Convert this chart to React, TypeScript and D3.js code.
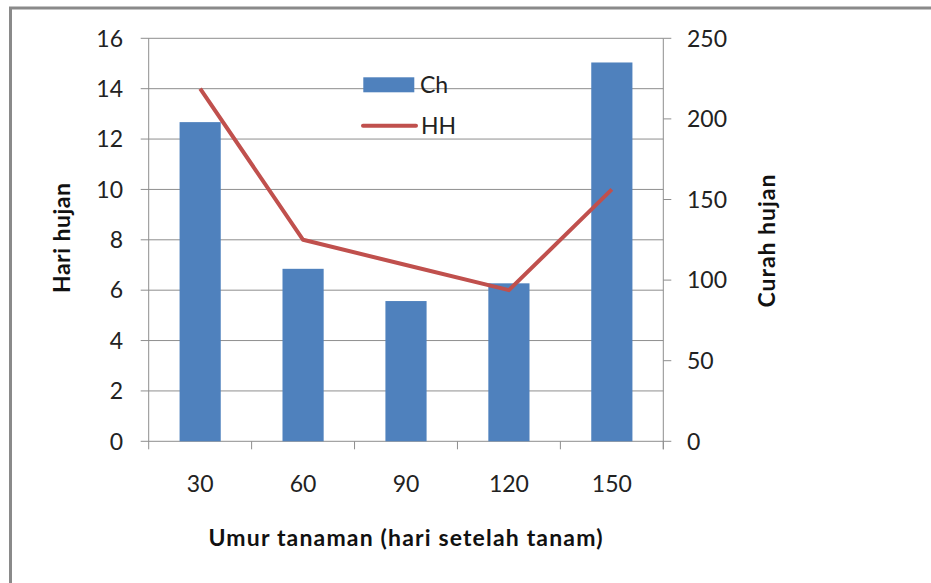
import React from 'react'
import * as d3 from 'd3'

// umur tanaman (hari setelah tanam)
const categories = ['30', '60', '90', '120', '150']
// curah hujan (bars, right axis)
const chValues = [198, 107, 87, 98, 235]
// hari hujan (line, left axis)
const hhValues = [14, 8, 7, 6, 10]
const leftTicks = [0, 2, 4, 6, 8, 10, 12, 14, 16]
const rightTicks = [0, 50, 100, 150, 200, 250]

const W = 931
const H = 583
const margin = { top: 38.3, right: 267.7, bottom: 141.7, left: 148.7 }

const BAR = '#4F81BD'
const LINE = '#C0504D'
const GRID = '#8e8e8e'
const FONT = 'Lato, "Open Sans", sans-serif'

export default function App() {
    const x0 = margin.left
    const x1 = W - margin.right
    const y0 = H - margin.bottom
    const y1 = margin.top

    const x = d3.scaleBand().domain(categories).range([x0, x1]).padding(0)
    const yLeft = d3.scaleLinear().domain([0, 16]).range([y0, y1])
    const yRight = d3.scaleLinear().domain([0, 250]).range([y0, y1])
    const barW = x.bandwidth() * 0.4
    const cx = (c: string) => (x(c) as number) + x.bandwidth() / 2

    const line = d3
        .line<number>()
        .x((d, i) => cx(categories[i]))
        .y((d) => yLeft(d))

    const tickEdges = categories.map((c) => x(c) as number).concat([x1])

    return (
        <svg
            width={W}
            height={H}
            style={{ position: 'absolute', left: 0, top: 0, background: '#fff' }}
            fontFamily={FONT}
        >
            {/* outer frame */}
            <rect x={10.5} y={8} width={W + 20} height={H + 20} fill="none" stroke="#8a8a8a" strokeWidth={3} />

            {/* gridlines */}
            {leftTicks.map((t) => (
                <line key={'g' + t} x1={x0 - 8} x2={x1} y1={yLeft(t)} y2={yLeft(t)} stroke={GRID} strokeWidth={1} />
            ))}
            {/* axes */}
            <line x1={x0} x2={x0} y1={y1} y2={y0} stroke={GRID} />
            <line x1={x1} x2={x1} y1={y1} y2={y0 + 8} stroke={GRID} />
            {tickEdges.map((t, i) => (
                <line key={'xt' + i} x1={t} x2={t} y1={y0} y2={y0 + 8} stroke={GRID} />
            ))}
            {rightTicks.map((t) => (
                <line key={'rt' + t} x1={x1} x2={x1 + 8} y1={yRight(t)} y2={yRight(t)} stroke={GRID} />
            ))}

            {/* bars */}
            {chValues.map((v, i) => (
                <rect
                    key={'b' + i}
                    x={cx(categories[i]) - barW / 2}
                    y={yRight(v)}
                    width={barW}
                    height={y0 - yRight(v)}
                    fill={BAR}
                />
            ))}

            {/* line */}
            <path d={line(hhValues) as string} fill="none" stroke={LINE} strokeWidth={4} strokeLinejoin="round" />

            {/* tick labels */}
            {leftTicks.map((t) => (
                <text key={'lt' + t} x={123} y={yLeft(t)} dy="0.36em" textAnchor="end" fontSize={23} fill="#222">
                    {t}
                </text>
            ))}
            {rightTicks.map((t) => (
                <text key={'rl' + t} x={687} y={yRight(t)} dy="0.36em" textAnchor="start" fontSize={23} fill="#222">
                    {t}
                </text>
            ))}
            {categories.map((c) => (
                <text key={'xl' + c} x={cx(c)} y={483.5} dy="0.36em" textAnchor="middle" fontSize={23} fill="#222">
                    {c}
                </text>
            ))}

            {/* axis titles */}
            <text
                x={405.5}
                y={538}
                dy="0.36em"
                textAnchor="middle"
                fontSize={23}
                fontWeight="bold"
                fill="#111"
                textLength={394}
                lengthAdjust="spacing"
            >
                Umur tanaman (hari setelah tanam)
            </text>
            <text
                transform="translate(62,238) rotate(-90)"
                dy="0.36em"
                textAnchor="middle"
                fontSize={23}
                fontWeight="bold"
                fill="#111"
                textLength={110}
                lengthAdjust="spacing"
            >
                Hari hujan
            </text>
            <text
                transform="translate(767,241) rotate(-90)"
                dy="0.36em"
                textAnchor="middle"
                fontSize={23}
                fontWeight="bold"
                fill="#111"
                textLength={133}
                lengthAdjust="spacing"
            >
                Curah hujan
            </text>

            {/* legend */}
            <rect x={363.3} y={77.3} width={51} height={15} fill={BAR} />
            <text x={420} y={85} dy="0.36em" fontSize={23} fill="#222">
                Ch
            </text>
            <line x1={363} x2={416} y1={125.7} y2={125.7} stroke={LINE} strokeWidth={4} strokeLinecap="round" />
            <text x={421} y={125.7} dy="0.36em" fontSize={23} fill="#222">
                HH
            </text>
        </svg>
    )
}
